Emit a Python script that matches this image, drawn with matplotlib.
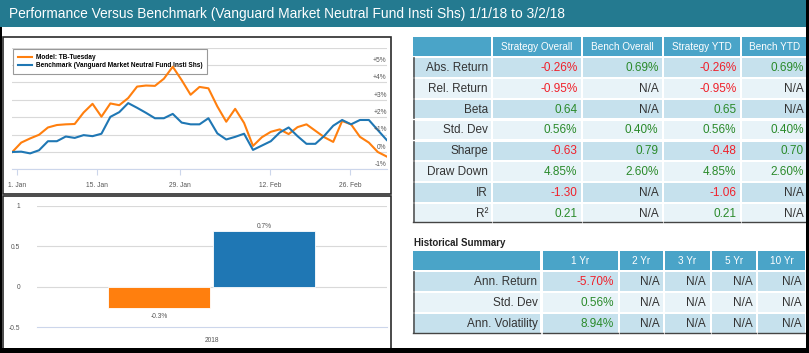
import numpy as np
import matplotlib
matplotlib.use('Agg')
import matplotlib.pyplot as plt
from matplotlib.patches import Rectangle

plt.rcParams['font.family'] = ['Liberation Sans', 'DejaVu Sans']

W, H = 809, 353

title = "Performance Versus Benchmark (Vanguard Market Neutral Fund Insti Shs) 1/1/18 to 3/2/18"

# cumulative return in %, one value per trading day (1 Jan .. 2 Mar 2018)
model_name = "Model: TB-Tuesday"
bench_name = "Benchmark (Vanguard Market Neutral Fund Insti Shs)"
model = [0.0, 0.54, 0.78, 0.99, 1.41, 1.55, 1.59, 1.61, 2.27, 2.77, 2.03, 2.79, 2.69, 3.10,
         3.76, 3.82, 3.80, 4.21, 4.90, 4.13, 3.29, 3.74, 3.66, 2.62, 1.74, 2.48, 1.67, 0.35,
         0.85, 1.16, 1.30, 1.03, 1.43, 1.59, 1.22, 0.85, 0.58, 1.78, 1.59, 0.87, 0.54, 0.0, -0.26]
bench = [0.0, 0.02, -0.08, 0.10, 0.62, 0.62, 0.89, 0.81, 0.97, 0.91, 1.05, 2.02, 2.29, 2.81,
         2.54, 2.25, 1.94, 1.94, 2.19, 1.69, 1.59, 1.59, 1.94, 1.07, 0.72, 0.87, 1.05, 0.12,
         0.37, 0.62, 1.12, 1.41, 0.91, 0.47, 0.47, 0.93, 1.51, 1.84, 1.59, 1.84, 1.84, 1.26, 0.69]
date_labels = ['1. Jan', '15. Jan', '29. Jan', '12. Feb', '26. Feb']
date_pos = [0.5, 9.5, 18.8, 28.9, 37.9]

# yearly bars
bar_year = '2018'
bar_model = -0.26
bar_bench = 0.69

# stats table
stat_rows = ['Abs. Return', 'Rel. Return', 'Beta', 'Std. Dev', 'Sharpe', 'Draw Down', 'IR', 'R²']
stat_cols = ['Strategy Overall', 'Bench Overall', 'Strategy YTD', 'Bench YTD']
strategy_overall = ['-0.26%', '-0.95%', '0.64', '0.56%', '-0.63', '4.85%', '-1.30', '0.21']
bench_overall = ['0.69%', 'N/A', 'N/A', '0.40%', '0.79', '2.60%', 'N/A', 'N/A']
strategy_ytd = ['-0.26%', '-0.95%', '0.65', '0.56%', '-0.48', '4.85%', '-1.06', '0.21']
bench_ytd = ['0.69%', 'N/A', 'N/A', '0.40%', '0.70', '2.60%', 'N/A', 'N/A']

# historical summary
hist_title = 'Historical Summary'
hist_rows = ['Ann. Return', 'Std. Dev', 'Ann. Volatility']
hist_cols = ['1 Yr', '2 Yr', '3 Yr', '5 Yr', '10 Yr']
hist_1yr = ['-5.70%', '0.56%', '8.94%']
hist_2yr = ['N/A', 'N/A', 'N/A']
hist_3yr = ['N/A', 'N/A', 'N/A']
hist_5yr = ['N/A', 'N/A', 'N/A']
hist_10yr = ['N/A', 'N/A', 'N/A']

ORANGE = '#ff7f0e'
BLUE = '#1f77b4'
RED = '#f0202a'
GREEN = '#2a8a2a'
HEAD = '#4aa4c8'
ROW_A = '#c6e1ed'
ROW_B = '#e8f3f8'

fig = plt.figure(figsize=(W / 100, H / 100), dpi=100)


def px_axes(x0, y0, x1, y1, z=1):
    return fig.add_axes([x0 / W, 1 - y1 / H, (x1 - x0) / W, (y1 - y0) / H], zorder=z)


bg = px_axes(0, 0, W, H, z=0)
bg.set_xlim(0, W)
bg.set_ylim(H, 0)
bg.axis('off')

# title bar
bg.add_patch(Rectangle((0, 0), W, 27, color='#247a90', lw=0))
bg.text(9, 14, title, color='white', fontsize=9.9, va='center', ha='left')

# panel borders
bg.add_patch(Rectangle((3, 37), 388, 157, fill=False, ec='#2b2b2b', lw=1.2))
bg.add_patch(Rectangle((3, 196), 388, 153, fill=False, ec='#2b2b2b', lw=1.2))

# ---- line chart
ax = px_axes(12.3, 47.6, 386.7, 169.4)
ax.set_facecolor('none')
x = np.arange(len(model))
ax.plot(x, model, color=ORANGE, lw=1.5, label=model_name, zorder=3)
ax.plot(x, bench, color=BLUE, lw=1.5, label=bench_name, zorder=3)
ax.set_xlim(0, len(model) - 1)
ax.set_ylim(-1, 6)
for v in range(-1, 7):
    ax.axhline(v, color='#d9d9d9', lw=0.8, zorder=1)
for v in range(-1, 6):
    lab = f'+{v}%' if v > 0 else f'{v}%'
    ax.annotate(lab, xy=(1, v), xycoords=('axes fraction', 'data'), xytext=(0, 3.4),
                textcoords='offset points', ha='right', va='center', fontsize=4.8, color='#555')
for s in ax.spines.values():
    s.set_visible(False)
ax.set_yticks([])
ax.set_xticks(date_pos)
ax.set_xticklabels(date_labels, fontsize=4.8, color='#555')
ax.tick_params(axis='x', length=4, color='#ccd6eb', pad=5)
ax.spines['bottom'].set_visible(True)
ax.spines['bottom'].set_color('#ccd6eb')
leg = ax.legend(loc='upper left', bbox_to_anchor=(13 / W, 1 - 49 / H), bbox_transform=fig.transFigure,
                borderaxespad=0, prop={'size': 4.7, 'weight': 'bold'}, handlelength=2.1,
                handletextpad=0.6, borderpad=0.75, labelspacing=0.2, fancybox=False,
                edgecolor='#999999', framealpha=1)
leg.get_frame().set_linewidth(0.8)
leg.set_zorder(2)

# ---- bar chart
bx = px_axes(36.7, 205.7, 386.7, 327.2)
bx.set_facecolor('none')
bx.bar([-0.15], [bar_model], width=0.29, color=ORANGE, ec='white', lw=0.6, zorder=3)
bx.bar([0.15], [bar_bench], width=0.29, color=BLUE, ec='white', lw=0.6, zorder=3)
bx.set_xlim(-0.5, 0.5)
bx.set_ylim(-0.5, 1)
for v in [0.5, 0, 1]:
    bx.axhline(v, color='#d9d9d9', lw=0.8, zorder=1)
for s in bx.spines.values():
    s.set_visible(False)
bx.spines['bottom'].set_visible(True)
bx.spines['bottom'].set_color('#ccd6eb')
bx.set_yticks([-0.5, 0, 0.5, 1])
bx.set_yticklabels(['-0.5', '0', '0.5', '1'], fontsize=4.8, color='#555')
bx.tick_params(axis='y', length=0, pad=12)
bx.set_xticks([0])
bx.set_xticklabels([bar_year], fontsize=4.8, color='#555')
bx.tick_params(axis='x', length=0, pad=7)
bx.annotate(f'{bar_model:.1f}%', xy=(-0.15, bar_model), xytext=(0, -6), textcoords='offset points',
            ha='center', va='center', fontsize=4.8, color='#555')
bx.annotate(f'{bar_bench:.1f}%', xy=(0.15, bar_bench), xytext=(0, 3), textcoords='offset points',
            ha='center', va='center', fontsize=4.8, color='#555')


def val_color(s):
    if s == 'N/A':
        return '#333333'
    return RED if s.startswith('-') else GREEN


def draw_table(col_edges, head_top, head_h, row_top, pitch, row_h, rows, cols, values, fs):
    # header
    for j, name in enumerate(cols):
        x0, x1 = col_edges[j + 1]
        bg.add_patch(Rectangle((x0, head_top), x1 - x0, head_h, color=HEAD, lw=0))
        bg.text((x0 + x1) / 2, head_top + head_h / 2 + 0.5, name, color='white', fontsize=fs - 1.3,
                ha='center', va='center')
    x0, x1 = col_edges[0]
    bg.add_patch(Rectangle((x0, head_top), x1 - x0, head_h, color=HEAD, lw=0))
    for i, rname in enumerate(rows):
        y0 = row_top + i * pitch
        fc = ROW_A if i % 2 == 0 else ROW_B
        for j, (cx0, cx1) in enumerate(col_edges):
            bg.add_patch(Rectangle((cx0, y0), cx1 - cx0, row_h, color=fc, lw=0))
        lx0, lx1 = col_edges[0]
        bg.plot([lx0 + 0.5, lx0 + 0.5], [y0, y0 + row_h], color='#555555', lw=1.2)
        bg.text(lx1 - 3, y0 + row_h / 2 + 0.5, rname, color='#333333', fontsize=fs, ha='right', va='center')
        for j, col in enumerate(values):
            cx0, cx1 = col_edges[j + 1]
            bg.text(cx1 - 3.5, y0 + row_h / 2 + 0.5, col[i], color=val_color(col[i]), fontsize=fs,
                    ha='right', va='center')
    yb = row_top + (len(rows) - 1) * pitch + row_h
    for cx0, cx1 in col_edges:
        bg.plot([cx0, cx1], [yb, yb], color='#444444', lw=1.0)


draw_table([(413.3, 491), (492.7, 581), (583, 662), (664, 740), (741.7, 807.5)],
           37.3, 18.7, 58.3, 20.8, 18.5, stat_rows, stat_cols,
           [strategy_overall, bench_overall, strategy_ytd, bench_ytd], 8.5)

bg.text(414, 243, hist_title, color='#222222', fontsize=7, fontweight='bold', ha='left', va='center')
draw_table([(413.3, 540.5), (542.7, 617.7), (619.7, 663), (665, 709.7), (711.7, 756), (758, 805.5)],
           251, 19, 271.7, 21, 19, hist_rows, hist_cols,
           [hist_1yr, hist_2yr, hist_3yr, hist_5yr, hist_10yr], 8.5)

# outer frame
top = px_axes(0, 0, W, H, z=10)
top.set_xlim(0, W)
top.set_ylim(H, 0)
top.axis('off')
top.add_patch(Rectangle((806, 0), 3, H, color='black', lw=0))
top.add_patch(Rectangle((0, 348), W, 5, color='black', lw=0))
top.add_patch(Rectangle((0, 27), 2.5, H - 27, color='black', lw=0))

fig.savefig('out.png', dpi=100)
